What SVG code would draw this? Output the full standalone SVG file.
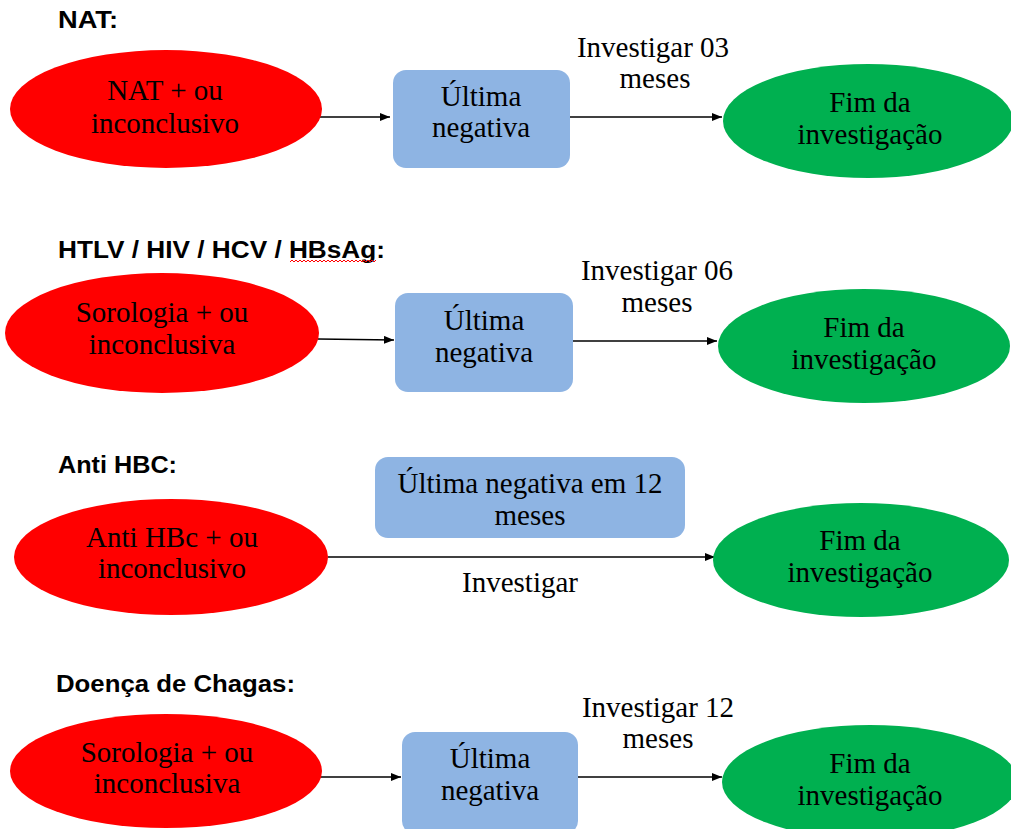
<svg xmlns="http://www.w3.org/2000/svg" width="1011" height="829" viewBox="0 0 1011 829">
<style>
.hd{font-family:"Liberation Sans",Arial,sans-serif;font-weight:bold;font-size:23px;fill:#000}
.t{font-family:"Liberation Serif","Times New Roman",serif;font-size:29px;fill:#000;text-anchor:middle}
.red{fill:#ff0000}
.grn{fill:#00b050}
.box{fill:#8eb4e3}
.ln{stroke:#000;stroke-width:1.5;fill:none}
</style>
<defs>
<marker id="ah" markerUnits="userSpaceOnUse" markerWidth="10" markerHeight="8" refX="10" refY="4" orient="auto">
<path d="M0,0 L10,4 L0,8 z" fill="#000"/>
</marker>
</defs>
<rect width="1011" height="829" fill="#fff"/>

<g id="headings">
<text class="hd" x="58" y="28" textLength="60" lengthAdjust="spacingAndGlyphs">NAT:</text>
<text class="hd" x="58" y="258" textLength="327" lengthAdjust="spacingAndGlyphs">HTLV / HIV / HCV / HBsAg:</text>
<path d="M290,262 l2,-2 l2,2 l2,-2 l2,2 l2,-2 l2,2 l2,-2 l2,2 l2,-2 l2,2 l2,-2 l2,2 l2,-2 l2,2 l2,-2 l2,2 l2,-2 l2,2 l2,-2 l2,2 l2,-2 l2,2 l2,-2 l2,2 l2,-2 l2,2 l2,-2 l2,2 l2,-2 l2,2 l2,-2 l2,2 l2,-2 l2,2 l2,-2 l2,2 l2,-2 l2,2 l2,-2 l2,2 l2,-2 l2,2 l2,-2" stroke="#ff0000" stroke-width="1" fill="none"/>
<text class="hd" x="58" y="473" textLength="119" lengthAdjust="spacingAndGlyphs">Anti HBC:</text>
<text class="hd" x="56" y="692" textLength="239" lengthAdjust="spacingAndGlyphs">Doença de Chagas:</text>
</g>

<g id="connectors">
<line class="ln" x1="318" y1="117" x2="390" y2="117" marker-end="url(#ah)"/>
<line class="ln" x1="570" y1="117" x2="722" y2="117" marker-end="url(#ah)"/>
<line class="ln" x1="318" y1="339" x2="394" y2="340" marker-end="url(#ah)"/>
<line class="ln" x1="573" y1="341" x2="717" y2="341" marker-end="url(#ah)"/>
<line class="ln" x1="328" y1="557" x2="715" y2="557" marker-end="url(#ah)"/>
<line class="ln" x1="318" y1="777" x2="401" y2="777" marker-end="url(#ah)"/>
<line class="ln" x1="578" y1="777" x2="722" y2="777" marker-end="url(#ah)"/>
</g>

<g id="labels">
<text class="t" x="653" y="57">Investigar 03</text>
<text class="t" x="655" y="88">meses</text>
<text class="t" x="657" y="280">Investigar 06</text>
<text class="t" x="657" y="312">meses</text>
<text class="t" x="520" y="592">Investigar</text>
<text class="t" x="658" y="717">Investigar 12</text>
<text class="t" x="658" y="748">meses</text>
</g>

<g id="nat-start">
<ellipse class="red" cx="166" cy="109" rx="156" ry="59"/>
<text class="t" x="165" y="100">NAT + ou</text>
<text class="t" x="165" y="133">inconclusivo</text>
</g>
<g id="nat-box">
<rect class="box" x="393" y="70" width="177" height="98" rx="13"/>
<text class="t" x="481" y="106">Última</text>
<text class="t" x="481" y="137">negativa</text>
</g>
<g id="nat-end">
<ellipse class="grn" cx="868" cy="121" rx="145" ry="57"/>
<text class="t" x="870" y="112">Fim da</text>
<text class="t" x="870" y="144">investigação</text>
</g>

<g id="sor-start">
<ellipse class="red" cx="162" cy="333" rx="157" ry="60"/>
<text class="t" x="162" y="322">Sorologia + ou</text>
<text class="t" x="162" y="354">inconclusiva</text>
</g>
<g id="sor-box">
<rect class="box" x="395" y="293" width="178" height="99" rx="13"/>
<text class="t" x="484" y="330">Última</text>
<text class="t" x="484" y="362">negativa</text>
</g>
<g id="sor-end">
<ellipse class="grn" cx="864" cy="346" rx="146" ry="57"/>
<text class="t" x="864" y="337">Fim da</text>
<text class="t" x="864" y="369">investigação</text>
</g>

<g id="hbc-start">
<ellipse class="red" cx="171" cy="557" rx="157" ry="58"/>
<text class="t" x="172" y="547">Anti HBc + ou</text>
<text class="t" x="172" y="578">inconclusivo</text>
</g>
<g id="hbc-box">
<rect class="box" x="375" y="457" width="310" height="81" rx="13"/>
<text class="t" x="530" y="493">Última negativa em 12</text>
<text class="t" x="530" y="525">meses</text>
</g>
<g id="hbc-end">
<ellipse class="grn" cx="861" cy="560" rx="148" ry="57"/>
<text class="t" x="860" y="550">Fim da</text>
<text class="t" x="860" y="582">investigação</text>
</g>

<g id="chagas-start">
<ellipse class="red" cx="166" cy="771" rx="156" ry="57"/>
<text class="t" x="167" y="762">Sorologia + ou</text>
<text class="t" x="167" y="793">inconclusiva</text>
</g>
<g id="chagas-box">
<rect class="box" x="402" y="732" width="176" height="102" rx="13"/>
<text class="t" x="490" y="768">Última</text>
<text class="t" x="490" y="800">negativa</text>
</g>
<g id="chagas-end">
<ellipse class="grn" cx="870" cy="782" rx="148" ry="57"/>
<text class="t" x="870" y="773">Fim da</text>
<text class="t" x="870" y="805">investigação</text>
</g>
</svg>
